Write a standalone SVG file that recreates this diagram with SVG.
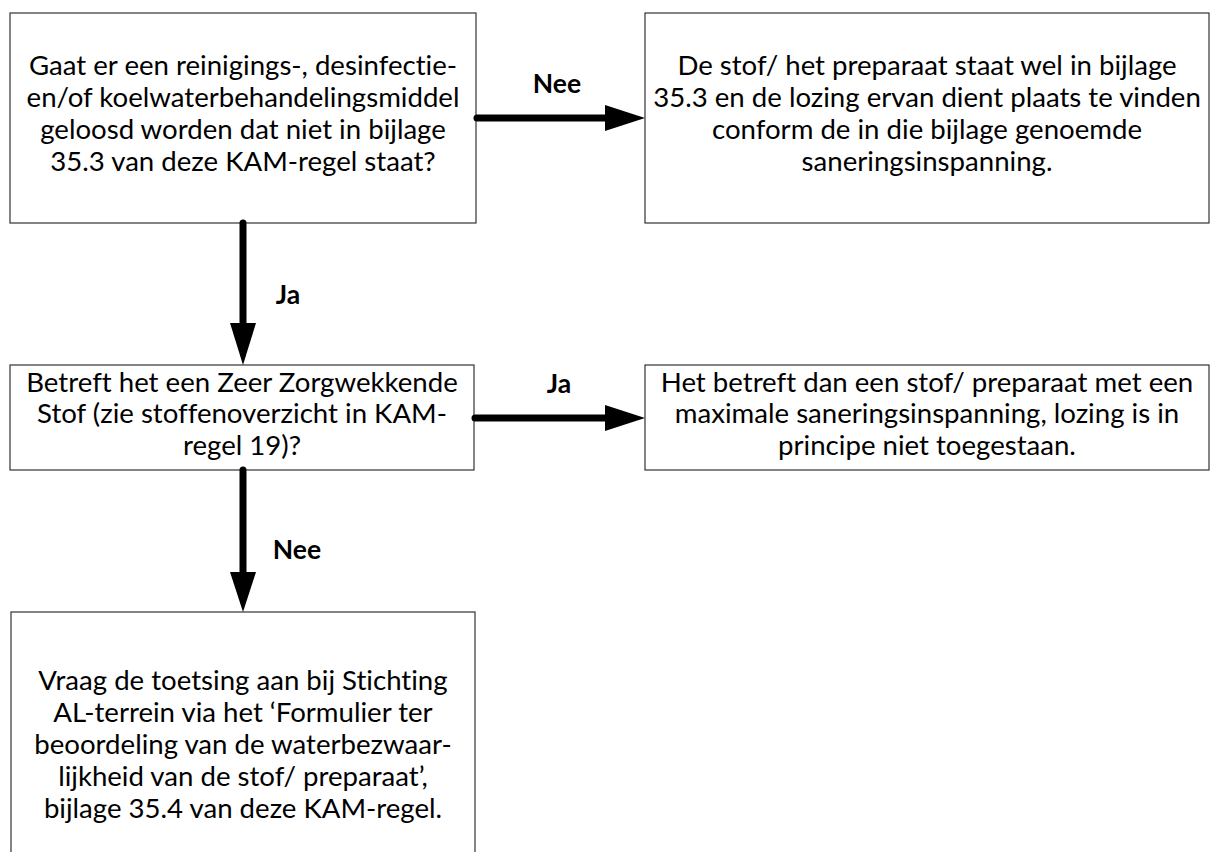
<svg xmlns="http://www.w3.org/2000/svg" width="1212" height="852" viewBox="0 0 1212 852">
<style>
.box{fill:#fff;stroke:#333;stroke-width:1.2}
.t{font-family:Lato,"Open Sans","Liberation Sans",sans-serif;font-size:27.6px;fill:#000;text-anchor:middle;font-variant-ligatures:none;font-feature-settings:"liga" 0,"dlig" 0}
.lbl{font-family:Lato,"Open Sans","Liberation Sans",sans-serif;font-size:26.5px;font-weight:bold;fill:#000;text-anchor:middle}
.shaft{stroke:#000;stroke-width:7;stroke-linecap:round;fill:none}
.head{fill:#000}
</style>
<rect width="1212" height="852" fill="#fff"/>
<g id="n1">
<rect class="box" x="10" y="13" width="466" height="210"/>
<text class="t" x="243" y="75">Gaat er een reinigings-, desinfectie-</text>
<text class="t" x="243" y="107">en/of koelwaterbehandelingsmiddel</text>
<text class="t" x="243" y="139">geloosd worden dat niet in bijlage</text>
<text class="t" x="243" y="171">35.3 van deze KAM-regel staat?</text>
</g>
<g id="n2">
<rect class="box" x="645" y="13" width="564" height="210"/>
<text class="t" x="927" y="75">De stof/ het preparaat staat wel in bijlage</text>
<text class="t" x="927" y="107">35.3 en de lozing ervan dient plaats te vinden</text>
<text class="t" x="927" y="139">conform de in die bijlage genoemde</text>
<text class="t" x="927" y="171">saneringsinspanning.</text>
</g>
<g id="n3">
<rect class="box" x="10" y="365" width="464" height="105"/>
<text class="t" x="242" y="392">Betreft het een Zeer Zorgwekkende</text>
<text class="t" x="242" y="423">Stof (zie stoffenoverzicht in KAM-</text>
<text class="t" x="242" y="455">regel 19)?</text>
</g>
<g id="n4">
<rect class="box" x="645" y="365" width="564" height="105"/>
<text class="t" x="927" y="392">Het betreft dan een stof/ preparaat met een</text>
<text class="t" x="927" y="423">maximale saneringsinspanning, lozing is in</text>
<text class="t" x="927" y="455">principe niet toegestaan.</text>
</g>
<g id="n5">
<rect class="box" x="11" y="612" width="464" height="260"/>
<text class="t" x="243" y="690">Vraag de toetsing aan bij Stichting</text>
<text class="t" x="243" y="722">AL-terrein via het ‘Formulier ter</text>
<text class="t" x="243" y="754">beoordeling van de waterbezwaar-</text>
<text class="t" x="243" y="786">lijkheid van de stof/ preparaat’,</text>
<text class="t" x="243" y="818">bijlage 35.4 van deze KAM-regel.</text>
</g>
<g id="connectors">
<line class="shaft" x1="477" y1="118" x2="608" y2="118"/>
<polygon class="head" points="605,105 645,118 605,131"/>
<text class="lbl" x="557" y="93">Nee</text>
<line class="shaft" x1="243" y1="223" x2="243" y2="326"/>
<polygon class="head" points="230,323 256,323 243,365"/>
<text class="lbl" x="288" y="304">Ja</text>
<line class="shaft" x1="475" y1="418" x2="608" y2="418"/>
<polygon class="head" points="605,405 645,418 605,431"/>
<text class="lbl" x="559" y="393">Ja</text>
<line class="shaft" x1="243" y1="470" x2="243" y2="575"/>
<polygon class="head" points="230,572 256,572 243,612"/>
<text class="lbl" x="297" y="559">Nee</text>
</g>
</svg>
